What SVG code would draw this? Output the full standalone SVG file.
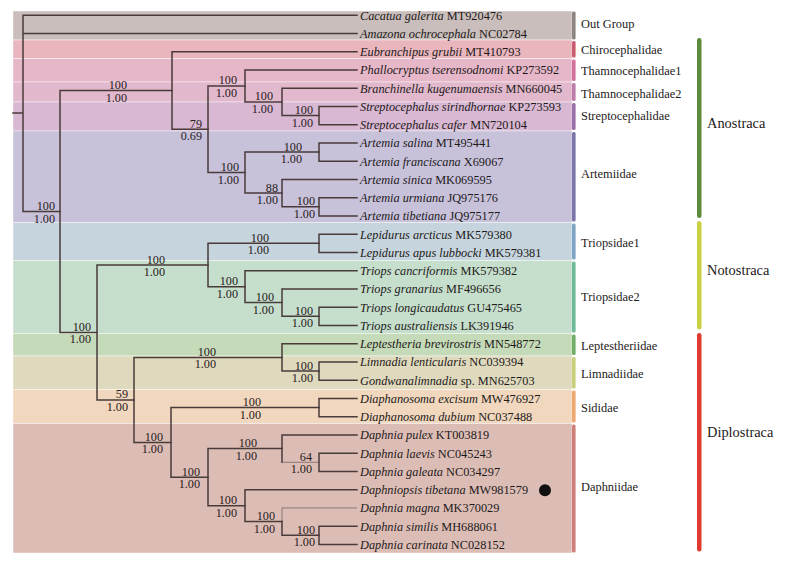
<svg xmlns="http://www.w3.org/2000/svg" width="794" height="564" viewBox="0 0 794 564">
<style>
.br{fill:none;stroke:#4a3b3b;stroke-width:1.5;stroke-linecap:square}
.thin{fill:none;stroke:#7a6868;stroke-width:0.8}
.bs{font-family:"Liberation Serif","Times New Roman",serif;font-size:12.2px;fill:#2a2222;text-anchor:end}
.lf{font-family:"Liberation Serif","Times New Roman",serif;font-size:12.3px;fill:#1e1a1a}
.lf tspan.i{font-style:italic}
.fam{font-family:"Liberation Serif","Times New Roman",serif;font-size:12.4px;fill:#1e1a1a}
.maj{font-family:"Liberation Serif","Times New Roman",serif;font-size:14.4px;fill:#1e1a1a}
.band{stroke:#ffffff;stroke-width:0.6;stroke-opacity:0.7}
</style>
<rect x="0" y="0" width="794" height="564" fill="#ffffff"/>

<g id="bands">
<g id="fam-outgroup"><rect class="band" x="13" y="11" width="559" height="29" fill="#c9bebb"/><rect x="572" y="11.5" width="3.6" height="28" rx="1.5" fill="#8d8383"/><text class="fam" x="581" y="28">Out Group</text></g>
<g id="fam-chirocephalidae"><rect class="band" x="13" y="40" width="559" height="18.5" fill="#e9b6be"/><rect x="572" y="41" width="3.6" height="16.5" rx="1.5" fill="#cb5b6f"/><text class="fam" x="581" y="54">Chirocephalidae</text></g>
<g id="fam-thamno1"><rect class="band" x="13" y="58.5" width="559" height="23.5" fill="#e6b7c8"/><rect x="572" y="59.5" width="3.6" height="21.5" rx="1.5" fill="#d2739c"/><text class="fam" x="581" y="75">Thamnocephalidae1</text></g>
<g id="fam-thamno2"><rect class="band" x="13" y="82" width="559" height="20" fill="#e1b8cc"/><rect x="572" y="83" width="3.6" height="18" rx="1.5" fill="#bb7cac"/><text class="fam" x="581" y="98">Thamnocephalidae2</text></g>
<g id="fam-streptocephalidae"><rect class="band" x="13" y="102" width="559" height="29" fill="#d8b8d2"/><rect x="572" y="103" width="3.6" height="27" rx="1.5" fill="#9a6fa8"/><text class="fam" x="581" y="120">Streptocephalidae</text></g>
<g id="fam-artemiidae"><rect class="band" x="13" y="131" width="559" height="91.5" fill="#c7c1da"/><rect x="572" y="132" width="3.6" height="89.5" rx="1.5" fill="#7a74a8"/><text class="fam" x="581" y="178">Artemiidae</text></g>
<g id="fam-triopsidae1"><rect class="band" x="13" y="222.5" width="559" height="38" fill="#c6d5dd"/><rect x="572" y="223.5" width="3.6" height="36" rx="1.5" fill="#7fa4c4"/><text class="fam" x="581" y="247">Triopsidae1</text></g>
<g id="fam-triopsidae2"><rect class="band" x="13" y="260.5" width="559" height="73" fill="#c5dfcc"/><rect x="572" y="261.5" width="3.6" height="71" rx="1.5" fill="#70ba98"/><text class="fam" x="581" y="301">Triopsidae2</text></g>
<g id="fam-leptestheriidae"><rect class="band" x="13" y="333.5" width="559" height="22.5" fill="#c5dab8"/><rect x="572" y="334.5" width="3.6" height="20.5" rx="1.5" fill="#70ae68"/><text class="fam" x="581" y="350">Leptestheriidae</text></g>
<g id="fam-limnadiidae"><rect class="band" x="13" y="356" width="559" height="33.5" fill="#dfd9bd"/><rect x="572" y="357" width="3.6" height="31.5" rx="1.5" fill="#c8cf7a"/><text class="fam" x="581" y="378">Limnadiidae</text></g>
<g id="fam-sididae"><rect class="band" x="13" y="389.5" width="559" height="34" fill="#f0d7bd"/><rect x="572" y="390.5" width="3.6" height="32" rx="1.5" fill="#eca972"/><text class="fam" x="581" y="412">Sididae</text></g>
<g id="fam-daphniidae"><rect class="band" x="13" y="423.5" width="559" height="129.5" fill="#dcbdb5"/><rect x="572" y="424.5" width="3.6" height="128" rx="1.5" fill="#d0807a"/><text class="fam" x="581" y="491">Daphniidae</text></g>
</g>

<g id="orders">
<g id="ord-anostraca"><rect x="697" y="38" width="4.5" height="180" rx="2.2" fill="#5b8b3d"/><text class="maj" x="707" y="128">Anostraca</text></g>
<g id="ord-notostraca"><rect x="697" y="221" width="4.5" height="108.5" rx="2.2" fill="#c9d042"/><text class="maj" x="707" y="275">Notostraca</text></g>
<g id="ord-diplostraca"><rect x="697" y="333" width="4.5" height="218.5" rx="2.2" fill="#df3a30"/><text class="maj" x="707" y="436.5">Diplostraca</text></g>
</g>

<g id="connectors">
<path class="br" d="M13,113H23 M23,15.2V211.5 M23,15.2H357 M23,33.45H357 M23,211.5H60"/>
<path class="br" d="M60,90.5V332.4 M60,90.5H172 M60,332.4H97"/>
<path class="br" d="M172,51.7V129.3 M172,51.7H357 M172,129.3H208"/>
<path class="br" d="M208,85.9V172.6 M208,85.9H245 M208,172.6H245"/>
<path class="br" d="M245,69.95V101.9 M245,69.95H357 M245,101.9H282"/>
<path class="br" d="M282,88.2V115.6 M282,88.2H357 M282,115.6H319"/>
<path class="br" d="M319,106.45V124.7 M319,106.45H357 M319,124.7H357"/>
<path class="br" d="M245,152.1V193.1 M245,152.1H319 M245,193.1H282"/>
<path class="br" d="M319,142.95V161.2 M319,142.95H357 M319,161.2H357"/>
<path class="br" d="M282,179.45V206.8 M282,179.45H357 M282,206.8H319"/>
<path class="br" d="M319,197.7V215.95 M319,197.7H357 M319,215.95H357"/>
<path class="br" d="M97,265V399.9 M97,265H208 M97,399.9H134"/>
<path class="br" d="M208,243.3V286.7 M208,243.3H319 M208,286.7H245"/>
<path class="br" d="M319,234.2V252.45 M319,234.2H357 M319,252.45H357"/>
<path class="br" d="M245,270.7V302.6 M245,270.7H357 M245,302.6H282"/>
<path class="br" d="M282,288.95V316.3 M282,288.95H357 M282,316.3H319"/>
<path class="br" d="M319,307.2V325.45 M319,307.2H357 M319,325.45H357"/>
<path class="br" d="M134,357.4V442.4 M134,357.4H282 M134,442.4H171"/>
<path class="br" d="M282,343.7V371.1 M282,343.7H357 M282,371.1H319"/>
<path class="br" d="M319,361.95V380.2 M319,361.95H357 M319,380.2H357"/>
<path class="br" d="M171,407.6V477.2 M171,407.6H319 M171,477.2H208"/>
<path class="br" d="M319,398.45V416.7 M319,398.45H357 M319,416.7H357"/>
<path class="br" d="M208,448.6V505.7 M208,448.6H282 M208,505.7H245"/>
<path class="br" d="M282,434.95V462.3 M282,434.95H357"/>
<path class="thin" d="M282,462.3H319"/>
<path class="br" d="M319,453.2V471.45 M319,453.2H357 M319,471.45H357"/>
<path class="br" d="M245,489.7V521.6 M245,489.7H357 M245,521.6H282"/>
<path class="thin" d="M282,507.95V521.6 M282,507.95H357"/>
<path class="br" d="M282,521.6V535.3 M282,535.3H319"/>
<path class="br" d="M319,526.2V544.45 M319,526.2H357 M319,544.45H357"/>
</g>

<g id="support">
<text class="bs" x="55" y="210">100</text><text class="bs" x="55" y="222.5">1.00</text>
<text class="bs" x="91" y="330.9">100</text><text class="bs" x="91" y="343.4">1.00</text>
<text class="bs" x="127" y="89">100</text><text class="bs" x="127" y="101.5">1.00</text>
<text class="bs" x="202" y="127.8">79</text><text class="bs" x="202" y="140.3">0.69</text>
<text class="bs" x="237" y="84.4">100</text><text class="bs" x="237" y="96.9">1.00</text>
<text class="bs" x="239" y="171.1">100</text><text class="bs" x="239" y="183.6">1.00</text>
<text class="bs" x="273" y="100.4">100</text><text class="bs" x="273" y="112.9">1.00</text>
<text class="bs" x="313" y="114.1">100</text><text class="bs" x="313" y="126.6">1.00</text>
<text class="bs" x="302" y="150.6">100</text><text class="bs" x="302" y="163.1">1.00</text>
<text class="bs" x="278" y="191.6">88</text><text class="bs" x="278" y="204.1">1.00</text>
<text class="bs" x="315" y="205.3">100</text><text class="bs" x="315" y="217.8">1.00</text>
<text class="bs" x="165" y="263.5">100</text><text class="bs" x="165" y="276">1.00</text>
<text class="bs" x="128" y="398.4">59</text><text class="bs" x="128" y="410.9">1.00</text>
<text class="bs" x="269" y="241.8">100</text><text class="bs" x="269" y="254.3">1.00</text>
<text class="bs" x="238" y="285.2">100</text><text class="bs" x="238" y="297.7">1.00</text>
<text class="bs" x="274" y="301.1">100</text><text class="bs" x="274" y="313.6">1.00</text>
<text class="bs" x="313" y="314.8">100</text><text class="bs" x="313" y="327.3">1.00</text>
<text class="bs" x="216" y="355.9">100</text><text class="bs" x="216" y="368.4">1.00</text>
<text class="bs" x="313" y="369.6">100</text><text class="bs" x="313" y="382.1">1.00</text>
<text class="bs" x="163" y="440.9">100</text><text class="bs" x="163" y="453.4">1.00</text>
<text class="bs" x="261" y="406.1">100</text><text class="bs" x="261" y="418.6">1.00</text>
<text class="bs" x="200" y="475.7">100</text><text class="bs" x="200" y="488.2">1.00</text>
<text class="bs" x="257" y="447.1">100</text><text class="bs" x="257" y="459.6">1.00</text>
<text class="bs" x="312" y="460.8">64</text><text class="bs" x="312" y="473.3">1.00</text>
<text class="bs" x="237" y="504.2">100</text><text class="bs" x="237" y="516.7">1.00</text>
<text class="bs" x="275" y="520.1">100</text><text class="bs" x="275" y="532.6">1.00</text>
<text class="bs" x="315" y="533.8">100</text><text class="bs" x="315" y="546.3">1.00</text>
</g>

<g id="leaves">
<g id="t0"><text class="lf" x="360" y="19.5"><tspan class="i">Cacatua galerita</tspan> MT920476</text></g>
<g id="t1"><text class="lf" x="360" y="37.75"><tspan class="i">Amazona ochrocephala</tspan> NC02784</text></g>
<g id="t2"><text class="lf" x="360" y="56"><tspan class="i">Eubranchipus grubii</tspan> MT410793</text></g>
<g id="t3"><text class="lf" x="360" y="74.25"><tspan class="i">Phallocryptus tserensodnomi</tspan> KP273592</text></g>
<g id="t4"><text class="lf" x="360" y="92.5"><tspan class="i">Branchinella kugenumaensis</tspan> MN660045</text></g>
<g id="t5"><text class="lf" x="360" y="110.75"><tspan class="i">Streptocephalus sirindhornae</tspan> KP273593</text></g>
<g id="t6"><text class="lf" x="360" y="129"><tspan class="i">Streptocephalus cafer</tspan> MN720104</text></g>
<g id="t7"><text class="lf" x="360" y="147.25"><tspan class="i">Artemia salina</tspan> MT495441</text></g>
<g id="t8"><text class="lf" x="360" y="165.5"><tspan class="i">Artemia franciscana</tspan> X69067</text></g>
<g id="t9"><text class="lf" x="360" y="183.75"><tspan class="i">Artemia sinica</tspan> MK069595</text></g>
<g id="t10"><text class="lf" x="360" y="202"><tspan class="i">Artemia urmiana</tspan> JQ975176</text></g>
<g id="t11"><text class="lf" x="360" y="220.25"><tspan class="i">Artemia tibetiana</tspan> JQ975177</text></g>
<g id="t12"><text class="lf" x="360" y="238.5"><tspan class="i">Lepidurus arcticus</tspan> MK579380</text></g>
<g id="t13"><text class="lf" x="360" y="256.75"><tspan class="i">Lepidurus apus lubbocki</tspan> MK579381</text></g>
<g id="t14"><text class="lf" x="360" y="275"><tspan class="i">Triops cancriformis</tspan> MK579382</text></g>
<g id="t15"><text class="lf" x="360" y="293.25"><tspan class="i">Triops granarius</tspan> MF496656</text></g>
<g id="t16"><text class="lf" x="360" y="311.5"><tspan class="i">Triops longicaudatus</tspan> GU475465</text></g>
<g id="t17"><text class="lf" x="360" y="329.75"><tspan class="i">Triops australiensis</tspan> LK391946</text></g>
<g id="t18"><text class="lf" x="360" y="348"><tspan class="i">Leptestheria brevirostris</tspan> MN548772</text></g>
<g id="t19"><text class="lf" x="360" y="366.25"><tspan class="i">Limnadia lenticularis</tspan> NC039394</text></g>
<g id="t20"><text class="lf" x="360" y="384.5"><tspan class="i">Gondwanalimnadia</tspan> sp. MN625703</text></g>
<g id="t21"><text class="lf" x="360" y="402.75"><tspan class="i">Diaphanosoma excisum</tspan> MW476927</text></g>
<g id="t22"><text class="lf" x="360" y="421"><tspan class="i">Diaphanosoma dubium</tspan> NC037488</text></g>
<g id="t23"><text class="lf" x="360" y="439.25"><tspan class="i">Daphnia pulex</tspan> KT003819</text></g>
<g id="t24"><text class="lf" x="360" y="457.5"><tspan class="i">Daphnia laevis</tspan> NC045243</text></g>
<g id="t25"><text class="lf" x="360" y="475.75"><tspan class="i">Daphnia galeata</tspan> NC034297</text></g>
<g id="t26"><text class="lf" x="360" y="494"><tspan class="i">Daphniopsis tibetana</tspan> MW981579</text><circle cx="545" cy="490.3" r="6" fill="#111111"/></g>
<g id="t27"><text class="lf" x="360" y="512.25"><tspan class="i">Daphnia magna</tspan> MK370029</text></g>
<g id="t28"><text class="lf" x="360" y="530.5"><tspan class="i">Daphnia similis</tspan> MH688061</text></g>
<g id="t29"><text class="lf" x="360" y="548.75"><tspan class="i">Daphnia carinata</tspan> NC028152</text></g>
</g>
</svg>
